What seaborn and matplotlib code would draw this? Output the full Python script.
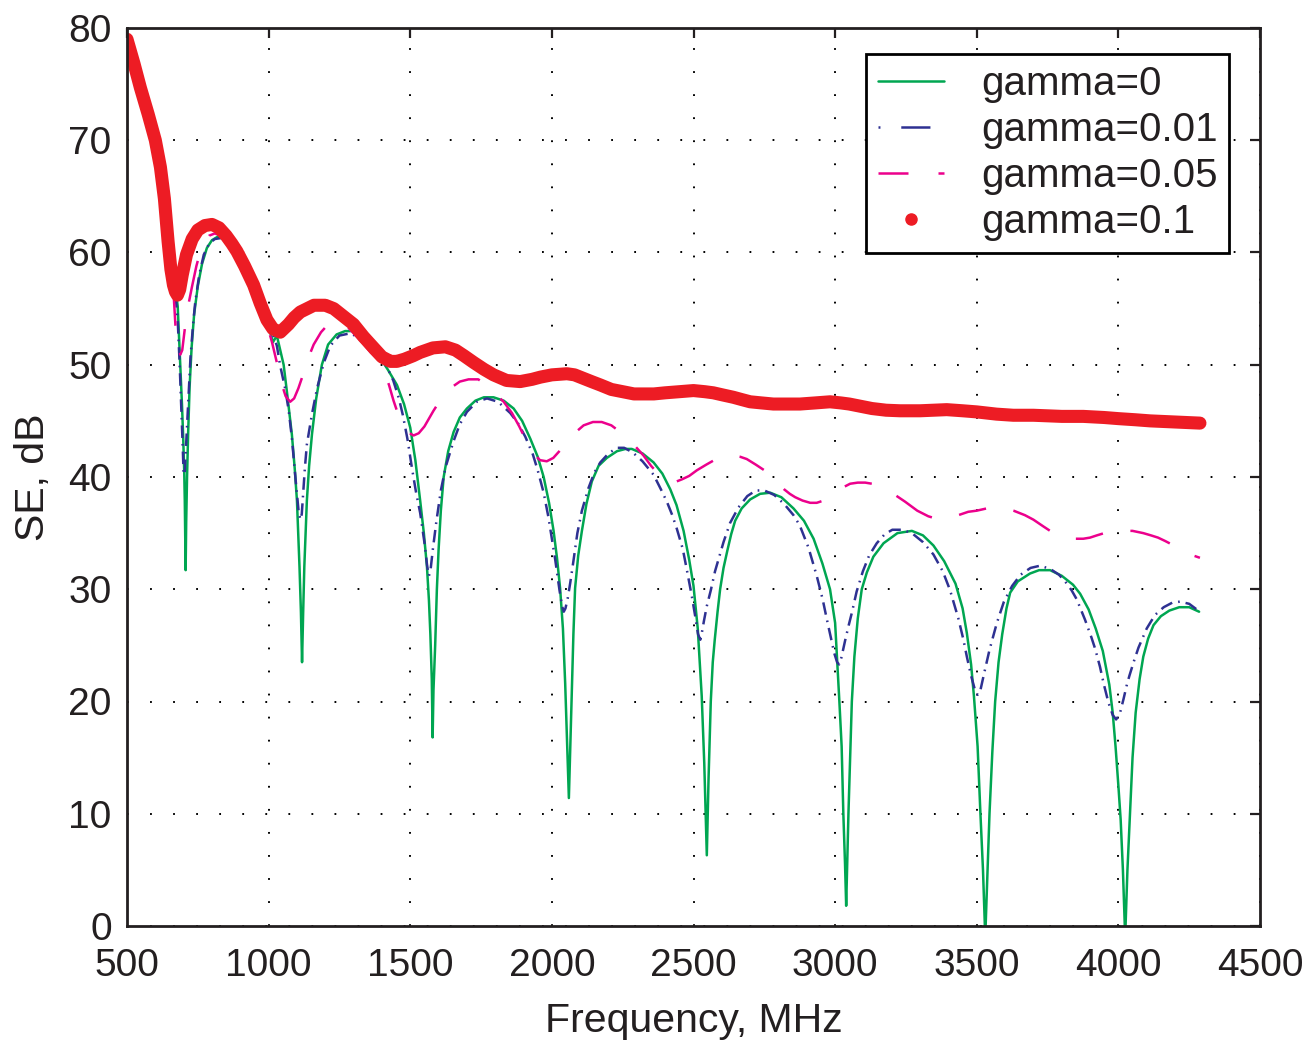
import matplotlib
matplotlib.use("Agg")
import matplotlib.pyplot as plt
from matplotlib.lines import Line2D
import numpy as np
import pandas as pd
import seaborn as sns

# ---------------- data ----------------
labels = ["gamma=0", "gamma=0.01", "gamma=0.05", "gamma=0.1"]

g0_f = [500, 520, 541, 565, 590, 610, 630, 645, 655, 668, 679, 688, 694, 698, 702, 704, 707,
        709, 712, 716, 721, 728, 737, 750, 765, 782, 800, 820, 841, 865, 890, 915, 940, 965, 990,
        1015, 1029, 1040, 1053, 1065, 1082, 1092, 1100, 1109, 1114, 1118,
        1122, 1126, 1135, 1143, 1153, 1168, 1188, 1210, 1240, 1270, 1306, 1340, 1370, 1394, 1420,
        1453, 1478, 1500, 1518, 1535, 1548, 1559, 1566, 1571, 1576, 1579,
        1582, 1588, 1594, 1600, 1608, 1618, 1634, 1653, 1675, 1700, 1730, 1760, 1794, 1830, 1865,
        1895, 1924, 1950, 1971, 1990, 2006, 2018, 2029, 2039, 2047, 2054, 2060,
        2065, 2071, 2076, 2082, 2093, 2106, 2122, 2141, 2165, 2194, 2230, 2260, 2282, 2320, 2359,
        2390, 2418, 2440, 2465, 2485, 2500, 2515, 2529, 2538, 2547,
        2553, 2561, 2568, 2575, 2585, 2594, 2606, 2620, 2633, 2647, 2670, 2700, 2735, 2771, 2810,
        2853, 2890, 2924, 2955, 2982, 3000, 3015, 3023, 3029, 3035, 3039,
        3043, 3047, 3053, 3059, 3068, 3080, 3094, 3112, 3135, 3171, 3220, 3271, 3310, 3347, 3385,
        3425, 3450, 3465, 3480, 3490, 3503, 3513, 3522, 3530,
        3538, 3545, 3555, 3565, 3577, 3590, 3605, 3618, 3645, 3688, 3720, 3759, 3800, 3840, 3865,
        3895, 3920, 3945, 3968, 3980, 3990, 4000, 4008, 4016, 4024,
        4032, 4041, 4050, 4061, 4075, 4088, 4105, 4124, 4150, 4180, 4215, 4250, 4285]
g0_se = [79.0, 77.0, 74.8, 72.5, 70.3, 68.3, 66.0, 63.3, 60.5, 57.5, 55.2, 50.0, 46.5, 43.8, 40.5,
         37.9, 31.7,
         36.0, 40.0, 44.0, 48.0, 51.5, 54.5, 57.0, 59.0, 60.4, 61.1, 61.4, 61.4, 61.0, 60.3, 59.2,
         57.8, 56.2, 54.3, 52.0, 52.6, 51.4, 50.0, 47.5, 43.8, 40.8, 37.9, 32.0, 28.0, 23.5,
         28.0, 32.0, 37.9, 41.0, 43.8, 47.0, 50.0, 51.8, 52.7, 53.0, 53.0, 52.4, 51.5, 50.6, 49.6,
         48.2, 46.5, 44.4, 41.5, 37.9, 35.0, 32.0, 29.0, 26.0, 22.0, 16.8,
         21.0, 25.0, 30.0, 33.5, 37.0, 40.0, 42.3, 44.0, 45.3, 46.1, 46.8, 47.1, 47.1, 46.8, 46.1,
         45.0, 43.4, 41.8, 40.0, 37.7, 35.2, 32.8, 30.1, 26.5, 21.6, 16.0, 11.4,
         16.0, 21.6, 26.0, 30.1, 33.0, 35.2, 37.6, 39.6, 41.0, 41.7, 42.3, 42.5, 42.5, 42.1, 41.3,
         40.3, 38.9, 37.5, 35.2, 32.6, 30.3, 26.5, 20.5, 14.5, 6.3,
         13.0, 20.0, 23.5, 25.5, 28.0, 30.0, 31.9, 33.5, 34.9, 36.1, 37.2, 38.0, 38.5, 38.6, 38.2,
         37.2, 36.1, 34.5, 32.3, 30.0, 27.0, 20.0, 16.0, 10.0, 5.5, 1.8,
         6.0, 10.0, 15.0, 20.0, 24.0, 27.4, 30.0, 31.5, 32.9, 34.1, 35.0, 35.2, 34.8, 33.9, 32.5,
         30.5, 28.3, 26.1, 23.3, 20.5, 16.0, 10.0, 5.0, -1.0,
         5.0, 10.0, 15.5, 20.0, 23.5, 26.0, 28.3, 29.7, 30.7, 31.4, 31.7, 31.7, 31.2, 30.4, 29.6,
         28.2, 26.5, 24.5, 21.5, 19.0, 16.0, 12.5, 9.5, 5.0, -1.0,
         5.0, 10.0, 15.0, 19.0, 22.0, 24.0, 25.6, 26.8, 27.6, 28.1, 28.4, 28.4, 28.0]

g1_f = [500, 520, 541, 565, 590, 610, 630, 645, 655, 668, 679, 686, 692, 697, 700, 704, 708, 715,
        724, 733, 741, 755, 771, 790, 810, 835, 865, 900, 930, 960, 994, 1015, 1029, 1041, 1059,
        1071, 1082, 1090, 1098, 1106, 1112, 1117, 1121, 1128, 1135, 1153, 1171, 1195, 1218, 1250,
        1288, 1320, 1350, 1385, 1418, 1440, 1460, 1474, 1490, 1506, 1520, 1535, 1551, 1560, 1566,
        1572, 1580, 1592, 1608, 1625, 1653, 1675, 1700, 1735, 1771, 1810, 1853, 1880, 1906, 1933,
        1950, 1971, 1988, 2000, 2012, 2027, 2036, 2042, 2048, 2056, 2065, 2076, 2090, 2106, 2129,
        2150, 2171, 2200, 2230, 2255, 2285, 2320, 2359, 2385, 2406, 2425, 2441, 2462, 2476, 2494,
        2506, 2516, 2524, 2530, 2537, 2547, 2561, 2576, 2592, 2606, 2629, 2659, 2690, 2720, 2750,
        2785, 2820, 2853, 2875, 2906, 2935, 2956, 2971, 2985, 2997, 3007, 3014, 3022, 3035, 3048,
        3059, 3076, 3098, 3120, 3147, 3175, 3202, 3240, 3276, 3310, 3347, 3380, 3406, 3435, 3453,
        3465, 3480, 3494, 3503, 3512, 3526, 3545, 3571, 3596, 3625, 3655, 3690, 3724, 3760, 3790,
        3812, 3835, 3853, 3882, 3905, 3918, 3935, 3949, 3965, 3980, 3992, 4005, 4018, 4030, 4039,
        4055, 4071, 4100, 4129, 4160, 4190, 4218, 4250, 4282]
g1_se = [79.0, 77.0, 74.8, 72.5, 70.3, 68.3, 66.0, 63.3, 60.5, 57.2, 54.0, 50.0, 46.0, 42.5, 40.2,
         40.5, 42.5, 45.9, 50.6, 53.5, 55.6, 58.0, 59.8, 60.8, 61.2, 61.3, 60.8, 59.8, 58.3, 56.5,
         54.3, 52.7, 51.7, 49.9, 47.8, 45.9, 43.5, 41.2, 39.0, 36.9, 36.2, 36.7, 38.2, 40.8, 42.9,
         45.6, 47.9, 50.2, 51.7, 52.6, 52.8, 52.4, 51.8, 51.0, 49.8, 48.6, 47.0, 45.5, 43.4, 40.8,
         38.7, 36.8, 34.0, 32.0, 31.2, 31.8, 33.6, 36.0, 38.8, 40.9, 43.2, 44.7, 45.8, 46.7, 47.0,
         46.7, 45.7, 44.8, 43.6, 42.0, 40.6, 38.6, 36.4, 34.5, 32.6, 29.9, 28.5, 28.0, 28.3, 29.2,
         30.6, 32.5, 35.0, 37.0, 39.0, 40.4, 41.3, 42.1, 42.6, 42.6, 42.2, 41.4, 40.2, 38.9, 37.8,
         36.6, 35.4, 33.6, 31.8, 29.4, 27.6, 26.0, 25.5, 26.2, 27.2, 28.5, 29.9, 31.6, 33.0, 34.2,
         35.9, 37.3, 38.3, 38.8, 38.8, 38.4, 37.6, 36.6, 35.7, 33.7, 31.2, 29.1, 27.3, 25.7, 24.3,
         23.5, 23.3, 23.9, 25.4, 26.8, 27.9, 29.8, 31.6, 33.0, 34.1, 34.9, 35.3, 35.3, 34.9, 34.2,
         33.1, 31.6, 29.9, 27.4, 25.5, 24.0, 22.3, 21.0, 20.6, 20.9, 22.5, 24.6, 27.0, 28.9, 30.3,
         31.3, 31.9, 32.1, 31.8, 31.3, 30.7, 29.9, 29.1, 27.3, 25.7, 24.7, 23.1, 21.5, 19.9, 18.8,
         18.4, 18.9, 20.2, 21.5, 22.3, 23.6, 24.8, 26.5, 27.7, 28.4, 28.8, 28.9, 28.7, 28.1]

g5_f = [500, 520, 541, 565, 590, 610, 630, 645, 655, 663, 671, 680, 688, 695, 706, 718, 729, 745,
        759, 775, 790, 810, 830, 850, 875, 900, 925, 950, 972, 994, 1012, 1029, 1045, 1060, 1076,
        1090, 1105, 1124, 1140, 1159, 1185, 1210, 1240, 1270, 1300, 1330, 1360, 1385, 1406, 1425,
        1441, 1457, 1471, 1490, 1512, 1530, 1550, 1582, 1610, 1641, 1675, 1706, 1740, 1770, 1800,
        1830, 1859, 1885, 1912, 1935, 1958, 1982, 2005, 2030, 2053, 2080, 2112, 2145, 2176, 2210,
        2247, 2285, 2324, 2350, 2375, 2400, 2418, 2440, 2460, 2485, 2512, 2545, 2580, 2610, 2640,
        2665, 2688, 2720, 2750, 2776, 2800, 2820, 2840, 2859, 2885, 2912, 2935, 2959, 2985, 3010,
        3030, 3053, 3080, 3106, 3130, 3159, 3200, 3247, 3290, 3329, 3355, 3380, 3405, 3435, 3470,
        3500, 3535, 3571, 3600, 3630, 3670, 3700, 3735, 3765, 3790, 3812, 3845, 3876, 3900, 3924,
        3950, 3985, 4018, 4050, 4088, 4115, 4140, 4165, 4188, 4215, 4240, 4265, 4288]
g5_se = [79.0, 77.0, 74.8, 72.5, 70.3, 68.3, 66.0, 63.3, 60.5, 57.0, 53.5, 51.5, 50.9, 51.3, 53.6,
         55.5, 56.9, 58.8, 60.1, 61.0, 61.5, 61.7, 61.5, 61.0, 60.3, 59.3, 58.2, 56.8, 55.3, 53.6,
         52.0, 50.2, 48.4, 47.2, 46.7, 47.0, 47.9, 49.3, 50.6, 51.8, 52.9, 53.6, 53.9, 53.6, 52.8,
         52.0, 51.1, 50.5, 49.5, 48.2, 46.8, 45.6, 44.8, 44.0, 43.7, 43.9, 44.5, 45.9, 47.0, 47.9,
         48.5, 48.7, 48.7, 48.2, 47.4, 46.7, 45.7, 44.5, 43.1, 42.1, 41.5, 41.4, 41.7, 42.4, 43.1,
         43.9, 44.6, 44.9, 44.9, 44.6, 43.9, 43.0, 41.9, 41.0, 40.3, 39.8, 39.6, 39.6, 39.8, 40.1,
         40.6, 41.1, 41.6, 41.9, 41.9, 41.8, 41.6, 41.1, 40.6, 40.1, 39.4, 38.9, 38.5, 38.2, 37.9,
         37.7, 37.7, 37.9, 38.3, 38.7, 39.1, 39.4, 39.5, 39.5, 39.4, 39.2, 38.6, 37.8, 37.0, 36.5,
         36.3, 36.3, 36.4, 36.6, 36.9, 37.0, 37.2, 37.3, 37.2, 37.0, 36.6, 36.2, 35.6, 35.1, 34.8,
         34.6, 34.5, 34.5, 34.6, 34.8, 35.0, 35.2, 35.2, 35.2, 35.0, 34.8, 34.6, 34.3, 34.0, 33.6,
         33.3, 33.0, 32.8]

g10_f = [500, 525, 547, 575, 600, 618, 632, 645, 655, 664, 671, 678, 686, 695, 710, 730, 750,
         775, 800, 825, 850, 870, 888, 915, 947, 970, 994, 1015, 1041, 1070, 1090, 1112, 1160, 1200,
         1230, 1260, 1300, 1335, 1371, 1400, 1430, 1453, 1480, 1510, 1535, 1580, 1624, 1660, 1690,
         1724, 1760, 1794, 1840, 1888, 1930, 1960, 2000, 2053, 2080, 2110, 2140, 2171, 2210, 2250,
         2290, 2324, 2360, 2400, 2450, 2500, 2540, 2570, 2605, 2641, 2670, 2700, 2740, 2782, 2830,
         2876, 2930, 2982, 3020, 3050, 3090, 3130, 3180, 3229, 3300, 3394, 3450, 3500, 3570, 3629,
         3700, 3800, 3876, 3950, 4000, 4060, 4112, 4200, 4288]
g10_se = [79.0, 76.8, 74.7, 72.3, 70.0, 67.6, 64.8, 61.0, 58.5, 57.1, 56.5, 56.2, 56.7, 58.0,
          59.8, 61.2, 62.0, 62.4, 62.5, 62.2, 61.5, 60.8, 60.1, 58.8, 57.1, 55.5, 54.0, 53.2, 52.9,
          53.6, 54.2, 54.7, 55.3, 55.3, 55.0, 54.4, 53.6, 52.5, 51.5, 50.7, 50.3, 50.3, 50.5, 50.8,
          51.1, 51.5, 51.6, 51.3, 50.8, 50.2, 49.6, 49.1, 48.6, 48.5, 48.7, 48.9, 49.1, 49.2, 49.1,
          48.8, 48.5, 48.2, 47.8, 47.6, 47.4, 47.4, 47.4, 47.5, 47.6, 47.7, 47.6, 47.5, 47.3, 47.1,
          46.9, 46.7, 46.6, 46.5, 46.5, 46.5, 46.6, 46.7, 46.6, 46.5, 46.3, 46.1, 45.95, 45.9, 45.9,
          46.0, 45.9, 45.8, 45.6, 45.5, 45.5, 45.4, 45.4, 45.3, 45.2, 45.1, 45.0, 44.9, 44.8]

x_ticks = [500, 1000, 1500, 2000, 2500, 3000, 3500, 4000, 4500]
y_ticks = [0, 10, 20, 30, 40, 50, 60, 70, 80]

# ---------------- style ----------------
GREEN = "#00a651"
BLUE = "#2e3192"
MAGENTA = "#ec008c"
RED = "#ed1c24"
INK = "#231f20"

sns.set_theme(style="white")
plt.rcParams["font.family"] = ["Liberation Sans", "DejaVu Sans"]
plt.rcParams["lines.scale_dashes"] = False
plt.rcParams["text.color"] = INK
plt.rcParams["axes.labelcolor"] = INK
plt.rcParams["xtick.color"] = INK
plt.rcParams["ytick.color"] = INK

fig = plt.figure(figsize=(13.1, 10.4), dpi=100)
ax = fig.add_axes([127 / 1310, 1 - 926 / 1040, (1260 - 127) / 1310, (926 - 28) / 1040])

series = [
    (g0_f, g0_se, GREEN, 1.8, "-"),
    (g1_f, g1_se, BLUE, 1.8, (0, (9.0, 4.3, 1.2, 4.3))),
    (g5_f, g5_se, MAGENTA, 1.8, (0, (30, 20, 20, 20))),
    (g10_f, g10_se, RED, 9.4, "-"),
]
for (f, se, col, lw, ls), lab in zip(series, labels):
    df = pd.DataFrame({"f": f, "se": se})
    sns.lineplot(data=df, x="f", y="se", ax=ax, color=col, linewidth=lw,
                 estimator=None, sort=False, legend=False)
    ln = ax.lines[-1]
    ln.set_linestyle(ls)
    ln.set_solid_capstyle("round")
    ln.set_solid_joinstyle("round")
    ln.set_dash_capstyle("butt")

ax.set_xlim(500, 4500)
ax.set_ylim(0, 80)
ax.set_xticks(x_ticks)
ax.set_yticks(y_ticks)
ax.grid(True, color="black", linestyle=(0, (1.3, 15.3)), linewidth=1.4)
ax.set_axisbelow(True)
for sp in ax.spines.values():
    sp.set_visible(True)
    sp.set_color(INK)
    sp.set_linewidth(2.0)
ax.tick_params(direction="in", length=7.5, width=1.6, top=True, right=True,
               labelsize=28, colors=INK)
ax.tick_params(axis="y", pad=11)
ax.tick_params(axis="x", pad=16)
ax.set_xlabel("Frequency, MHz", fontsize=29.5, labelpad=12.5)
ax.set_ylabel("SE, dB", fontsize=29.5, labelpad=12)

handles = [
    Line2D([], [], color=GREEN, lw=1.8),
    Line2D([], [], color=BLUE, lw=1.8, linestyle=(0, (1.4, 15.0, 21.0, 30.0))),
    Line2D([], [], color=MAGENTA, lw=1.8, linestyle=(0, (21.6, 21.6, 5.0, 30.0))),
    Line2D([], [], color=RED, marker="o", markersize=8, linestyle="none"),
]
leg = ax.legend(handles, labels, loc="upper right",
                bbox_to_anchor=(1 - 6 / 1133, 1 - 1 / 898),
                fontsize=29, frameon=True, fancybox=False, framealpha=1,
                edgecolor="black", borderaxespad=0.62, borderpad=0.28,
                labelspacing=0.2, handlelength=1.66, handletextpad=0.91,
                numpoints=1)
leg.get_frame().set_linewidth(2.0)

fig.savefig("out.png", dpi=100)
